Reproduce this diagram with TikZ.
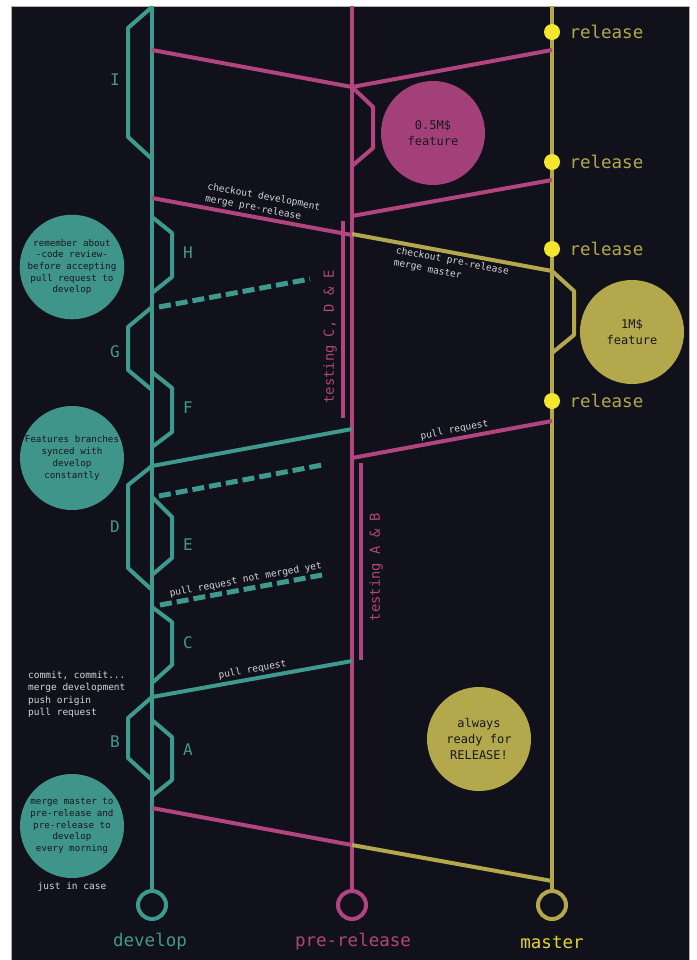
\documentclass[tikz,border=0pt]{standalone}
\usepackage{fontspec}
\setmonofont{DejaVu Sans Mono}
\definecolor{bg}{HTML}{10111A}
\definecolor{dev}{HTML}{3E9A8E}
\definecolor{devfill}{HTML}{40958A}
\definecolor{pre}{HTML}{B2447F}
\definecolor{prefill}{HTML}{A3407A}
\definecolor{mas}{HTML}{B3A84C}
\definecolor{masfill}{HTML}{B3A84C}
\definecolor{reldot}{HTML}{F4E62E}
\definecolor{note}{HTML}{D6D6D6}
\definecolor{ink}{HTML}{17181E}
\tikzset{
  trunk/.style={line width=4pt, line join=round},
  devline/.style={trunk, draw=dev},
  preline/.style={trunk, draw=pre},
  masline/.style={trunk, draw=mas},
  devdash/.style={draw=dev, line width=5pt, dash pattern=on 12pt off 5pt},
  endring/.style={circle, line width=4pt, minimum size=28pt, inner sep=0pt},
  reldotstyle/.style={circle, fill=reldot, minimum size=16pt, inner sep=0pt},
  reltext/.style={anchor=west, text=mas, font=\ttfamily\fontsize{17.5}{18}\selectfont},
  trunklabel/.style={font=\ttfamily\fontsize{17.5}{18}\selectfont},
  featlabel/.style={text=dev, font=\ttfamily\fontsize{16}{16}\selectfont},
  bubble/.style={circle, minimum size=104pt, inner sep=0pt, align=center, text=ink,
    font=\ttfamily\fontsize{9.2}{11.7}\selectfont},
  bigbubble/.style={bubble, font=\ttfamily\fontsize{12}{16}\selectfont},
  linenote/.style={text=note, font=\ttfamily\fontsize{9.5}{12.5}\selectfont, sloped, align=left, inner sep=2pt},
  testlabel/.style={rotate=90, text=pre, font=\ttfamily\fontsize{13.8}{14}\selectfont},
}
\begin{document}
\begin{tikzpicture}[x=1pt,y=-1pt]
\useasboundingbox (0,0) rectangle (696,960);
\fill[white] (0,0) rectangle (696,960);
\fill[bg] (11,6) rectangle (689,960);
\draw[gray!60, line width=0.8pt] (11,960) -- (11,6) -- (689,6) -- (689,960);

% ---- trunk end rings and names ----
\node[endring, draw=dev] (devEnd) at (152,905) {};
\node[endring, draw=pre] (preEnd) at (352,905) {};
\node[endring, draw=mas] (masEnd) at (552,905) {};
\node[trunklabel, text=dev] (devName) at (150,942) {develop};
\node[trunklabel, text=pre] (preName) at (353,942) {pre-release};
\node[trunklabel, text=reldot!75!mas] (masName) at (552,942) {master};

\coordinate (devTop) at (152,6);
\coordinate (preTop) at (352,6);
\coordinate (masTop) at (552,6);
\draw[devline] (devTop) -- (devEnd.north);
\draw[preline] (preTop) -- (preEnd.north);
\draw[masline] (masTop) -- (masEnd.north);

% ---- feature branches off develop ----
% I
\coordinate (i0) at (152,7);   \coordinate (i1) at (128,28);
\coordinate (i2) at (128,137); \coordinate (i3) at (152,159);
\draw[devline] (i0) -- (i1) -- (i2) -- (i3);
\node[featlabel] (lI) at (115,80) {I};
% H
\coordinate (h0) at (152,217); \coordinate (h1) at (172,233);
\coordinate (h2) at (172,277); \coordinate (h3) at (152,293);
\draw[devline] (h0) -- (h1) -- (h2) -- (h3);
\node[featlabel] (lH) at (188,253) {H};
% G
\coordinate (g0) at (152,307); \coordinate (g1) at (128,327);
\coordinate (g2) at (128,370); \coordinate (g3) at (152,390);
\draw[devline] (g0) -- (g1) -- (g2) -- (g3);
\node[featlabel] (lG) at (115,352) {G};
% F
\coordinate (f0) at (152,372); \coordinate (f1) at (172,388);
\coordinate (f2) at (172,432); \coordinate (f3) at (152,447);
\draw[devline] (f0) -- (f1) -- (f2) -- (f3);
\node[featlabel] (lF) at (188,408) {F};
% D
\coordinate (d0) at (152,466); \coordinate (d1) at (128,485);
\coordinate (d2) at (128,568); \coordinate (d3) at (152,590);
\draw[devline] (d0) -- (d1) -- (d2) -- (d3);
\node[featlabel] (lD) at (115,527) {D};
% E
\coordinate (e0) at (152,497); \coordinate (e1) at (172,517);
\coordinate (e2) at (172,558); \coordinate (e3) at (152,575);
\draw[devline] (e0) -- (e1) -- (e2) -- (e3);
\node[featlabel] (lE) at (188,545) {E};
% C
\coordinate (c0) at (152,607); \coordinate (c1) at (172,622);
\coordinate (c2) at (172,665); \coordinate (c3) at (152,683);
\draw[devline] (c0) -- (c1) -- (c2) -- (c3);
\node[featlabel] (lC) at (188,643) {C};
% B
\coordinate (b0) at (152,697); \coordinate (b1) at (128,718);
\coordinate (b2) at (128,758); \coordinate (b3) at (152,780);
\draw[devline] (b0) -- (b1) -- (b2) -- (b3);
\node[featlabel] (lB) at (115,742) {B};
% A
\coordinate (a0) at (152,720); \coordinate (a1) at (172,737);
\coordinate (a2) at (172,780); \coordinate (a3) at (152,796);
\draw[devline] (a0) -- (a1) -- (a2) -- (a3);
\node[featlabel] (lA) at (188,750) {A};

% ---- feature branches off pre-release and master ----
\coordinate (p0) at (352,87);  \coordinate (p1) at (373,107);
\coordinate (p2) at (373,148); \coordinate (p3) at (352,166);
\draw[preline] (p0) -- (p1) -- (p2) -- (p3);
\node[bigbubble, fill=prefill] (halfM) at (433,133) {0.5M\$\\feature};

\coordinate (m0) at (552,271); \coordinate (m1) at (574,291);
\coordinate (m2) at (574,335); \coordinate (m3) at (552,353);
\draw[masline] (m0) -- (m1) -- (m2) -- (m3);
\node[bigbubble, fill=masfill] (oneM) at (632,332) {1M\$\\feature};

% ---- merges between trunks ----
\coordinate (dv1) at (152,50);   \coordinate (pr1) at (352,87);   \coordinate (ms1) at (552,50);
\draw[preline] (dv1) -- (pr1) -- (ms1);
\coordinate (ms2) at (552,180);  \coordinate (pr2) at (352,216);
\draw[preline] (ms2) -- (pr2);
\coordinate (dv2) at (152,198);  \coordinate (pr3) at (352,235);
\draw[preline] (dv2) -- node[linenote, above, pos=0.54] {checkout development\\merge pre-release} (pr3);
\coordinate (pr4) at (352,234);  \coordinate (ms3) at (552,271);
\draw[masline] (pr4) -- node[linenote, below, pos=0.51] {checkout pre-release\\merge master} (ms3);
\coordinate (pr5) at (352,458);  \coordinate (ms4) at (552,421);
\draw[preline] (pr5) -- node[linenote, above, pos=0.52] {pull request} (ms4);
\coordinate (dv3) at (152,466);  \coordinate (pr6) at (352,429);
\draw[devline] (dv3) -- (pr6);
\coordinate (dv4) at (152,697);  \coordinate (pr7) at (352,661);
\draw[devline] (dv4) -- node[linenote, above, pos=0.51] {pull request} (pr7);
\coordinate (dv5) at (152,808);  \coordinate (pr8) at (352,845);  \coordinate (ms5) at (552,881);
\draw[preline] (dv5) -- (pr8);
\draw[masline] (pr8) -- (ms5);

% ---- pending pull requests ----
\coordinate (q1a) at (159,307); \coordinate (q1b) at (310,279);
\draw[devdash] (q1a) -- (q1b);
\coordinate (q2a) at (159,496); \coordinate (q2b) at (322,465);
\draw[devdash] (q2a) -- (q2b);
\coordinate (q3a) at (160,605); \coordinate (q3b) at (322,575);
\draw[devdash] (q3a) -- node[linenote, above, pos=0.54] {pull request not merged yet} (q3b);

% ---- testing windows on pre-release ----
\coordinate (t1a) at (343,221); \coordinate (t1b) at (343,418);
\draw[preline] (t1a) -- (t1b);
\node[testlabel] (t1) at (330,337) {testing C, D \& E};
\coordinate (t2a) at (361,463); \coordinate (t2b) at (361,660);
\draw[preline] (t2a) -- (t2b);
\node[testlabel] (t2) at (376,567) {testing A \& B};

% ---- releases on master ----
\foreach \n/\y in {1/32, 2/162, 3/249, 4/401} {
  \node[reldotstyle] (rel\n) at (552,\y) {};
  \node[reltext] (reltxt\n) at (566,\y) {release};
}

% ---- notes ----
\node[bubble, fill=devfill] (noteReview) at (72,267)
  {remember about\\-code review-\\before accepting\\pull request to\\develop};
\node[bubble, fill=devfill] (noteSync) at (72,458)
  {Features branches\\synced with\\develop\\constantly};
\node[bubble, fill=devfill] (noteMorning) at (72,826)
  {merge master to\\pre-release and\\pre-release to\\develop\\every morning};
\node[text=note, font=\ttfamily\fontsize{9.5}{12}\selectfont] (justCase) at (72,887) {just in case};
\node[text=note, anchor=north west, align=left, inner sep=0pt,
  font=\ttfamily\fontsize{9.5}{12.4}\selectfont] (commitNote) at (28,671)
  {commit, commit...\\merge development\\push origin\\pull request};
\node[bigbubble, fill=masfill] (always) at (479,739) {always\\ready for\\RELEASE!};
\end{tikzpicture}
\end{document}
